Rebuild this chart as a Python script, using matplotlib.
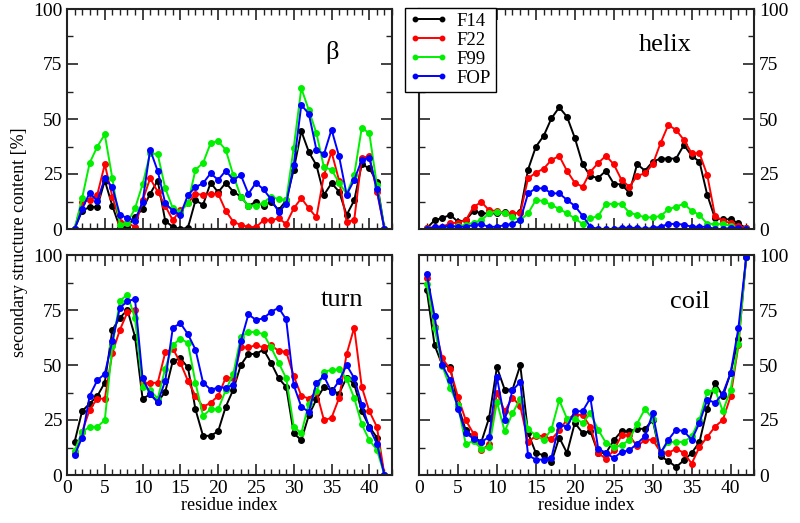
import matplotlib
matplotlib.use("Agg")
import matplotlib.pyplot as plt
from matplotlib.ticker import MultipleLocator

plt.rcParams["font.family"] = ["Liberation Serif", "DejaVu Serif"]

residues = list(range(1, 43))
series_names = ["F14", "F22", "F99", "FOP"]
series_colors = ["#000000", "#ff0000", "#00f000", "#0000ff"]

beta_f14 = [0, 8.3, 10, 10, 22, 10.5, 0.6, 1, 5.6, 9,
            16, 22, 3.6, 1, 0, 0.6, 13, 11, 21, 16.7,
            21, 17, 14.7, 10.5, 12.4, 10.5, 12.4, 8.6, 13, 27,
            44.5, 35, 29, 15.5, 20.8, 17, 6.4, 13, 29.4, 27.6,
            21.5, 0]
beta_f22 = [0, 12.4, 13, 15.5, 29.4, 14.7, 3.3, 2.6, 1, 13,
            23, 17, 10.5, 4, 8.6, 11.7, 16, 15.5, 16, 16,
            8.3, 3.3, 1.8, 1, 0.8, 4, 4, 4.8, 2.3, 9.4,
            14, 9.4, 5.3, 24.5, 35, 22, 3.3, 4, 32.4, 33,
            17, 0]
beta_f99 = [0, 14, 30, 37.4, 43, 23, 2, 2.9, 9.4, 20.3,
            34.4, 34, 18.5, 9.4, 7.9, 11.7, 27, 30, 39, 40,
            36, 24.5, 14.7, 10.5, 10.6, 12, 14.7, 13.5, 13, 37,
            64, 54, 43.5, 28, 27, 21, 16, 24.5, 46, 43.5,
            20, 0]
beta_fop = [0, 9, 16.5, 12.7, 23, 19, 6.4, 5, 3.8, 12.4,
            36, 26.4, 11.7, 8.3, 6.4, 15.5, 19, 20.8, 25.3, 22.3,
            26.5, 22.3, 24.5, 16, 21, 18, 13.5, 7.9, 11.2, 29,
            56.4, 52.3, 36, 34, 45.2, 33, 15.6, 22.3, 31.4, 32.4,
            18, 0]

helix_f14 = [0.3, 4, 5, 6.4, 3.3, 4, 8.2, 7.1, 7.1, 7.1,
             7.6, 6.4, 7.9, 27, 37.4, 42.3, 50.3, 55.3, 51, 41.4,
             29.5, 24, 23.2, 26.5, 20.6, 20.2, 16.5, 29.5, 26.5, 30.6,
             32, 32, 32, 38.2, 33.3, 30.6, 15.5, 4.8, 4.4, 4.4,
             2.6, 0.3]
helix_f22 = [0.3, 0.8, 1, 2.6, 2.9, 4, 10, 12.3, 8.5, 8.2,
             7.1, 7.4, 7.1, 23, 25.6, 27.4, 31.4, 33.2, 26.4, 21,
             19.2, 26, 30, 33.3, 29.4, 22.3, 19.2, 24.2, 25.3, 29.4,
             39, 47.3, 45, 40.5, 34.4, 34.4, 24.5, 5.9, 3.8, 2.6,
             1.5, 0.3]
helix_f99 = [0, 0.3, 0.6, 1, 1.4, 1.8, 2.9, 4, 7.1, 7.9,
             7.1, 5.6, 4, 7.1, 13.2, 12.7, 10.9, 9.1, 7.1, 4.8,
             2.3, 4.8, 5.9, 11.4, 11.4, 11.4, 7.4, 6.4, 5.3, 5.3,
             5.9, 8.9, 10.2, 11.4, 8.3, 6.4, 2.3, 2.3, 2.3, 1.4,
             0, 0]
helix_fop = [0, 1, 1, 1.4, 1, 1, 1.8, 2.1, 1, 1,
             1.8, 2.3, 4, 16.2, 18.5, 18.5, 16.2, 16.2, 13.2, 10.5,
             6, 1, 0, 0, 0, 0.5, 0.5, 0.5, 0, 0.5,
             1, 2.3, 2.3, 2, 1, 1, 1, 0, 0, 0.5,
             0.5, 0]

turn_f14 = [15, 29, 32.5, 35.8, 42, 66, 71.5, 75, 62.8, 34.7,
            36.6, 33.2, 37.8, 51.9, 53, 48.9, 29.8, 17.8, 17.8, 19.9,
            31, 38.8, 50, 55, 55, 57, 51, 44, 40, 19,
            15.8, 27.2, 34.4, 40, 38.5, 37, 44.3, 41.3, 29, 22,
            17, 0]
turn_f22 = [10, 19.6, 29.7, 34.7, 34.7, 55.5, 66, 74, 74.8, 41.6,
            41.9, 41.9, 55.7, 57.5, 51, 42.8, 36, 31, 32.8, 36,
            44.2, 44.2, 58, 58, 59, 58, 59, 56.4, 56, 45,
            36, 34.7, 37.8, 24.9, 26, 35, 55, 67, 40, 29,
            21.9, 0]
turn_f99 = [11, 19.6, 21.9, 21.9, 24.9, 58.6, 79.2, 82, 71.2, 40,
            38.5, 34.7, 48.4, 59, 62, 60, 41.9, 26.9, 29.9, 29.9,
            38.5, 46, 62.8, 65, 65, 64, 58, 51, 44, 22,
            19, 32.5, 38, 47, 47.7, 48, 43.7, 35, 23, 15.8,
            11.5, 0]
turn_fop = [9, 17, 36, 43, 46, 61, 76, 79, 80, 43.9,
            37, 33, 42.8, 66.9, 69, 64, 57, 42, 38.8, 39.7,
            39.7, 41, 60.8, 73, 70.5, 71.2, 74.2, 76, 70.7, 40.8,
            31, 28.7, 41.9, 44.9, 37.8, 42.8, 50, 44, 32, 21.4,
            14.3, 0]

coil_f14 = [84, 59, 49.9, 49, 31.7, 20.3, 17.3, 15, 26, 49,
            38.8, 38.8, 49.9, 19.1, 10, 9, 5.9, 17, 10, 23.7,
            19.1, 19.9, 10, 10, 15.8, 19.9, 19.9, 21, 21, 25,
            8.5, 6.4, 3.6, 6.7, 10, 15, 30, 41.9, 35.8, 46.4,
            62, 99]
coil_f22 = [89.7, 67.4, 53, 48, 35.5, 24.9, 18.8, 11.2, 14, 37.5,
            29, 35.2, 31.3, 15, 17.8, 17.8, 16.2, 20.3, 25.2, 27.5,
            27.2, 21.9, 10, 7.4, 11.2, 18, 18, 13, 16, 16,
            10.5, 10, 12, 10, 5.2, 12.7, 17.3, 22, 25, 35.8,
            59, 99]
coil_f99 = [87, 66.6, 49.5, 39.6, 31.7, 14, 15.5, 12, 12.7, 33.2,
            19.9, 28, 34.7, 20.8, 18, 15.8, 20.8, 34, 25.6, 25.6,
            23.7, 28, 20.6, 14.6, 12.7, 13.5, 16, 23.4, 30, 25.6,
            10, 15, 15, 15, 17.6, 25.2, 37.8, 38.8, 29, 38.8,
            59.5, 99]
coil_fop = [91.2, 72.2, 49.9, 43, 30.2, 19.1, 16.5, 15, 17.3, 44.6,
            24.9, 38.5, 42.3, 9, 7, 7, 7.9, 22.9, 21.9, 29,
            29, 35, 12, 10, 7.7, 10.5, 11.2, 14.3, 17.6, 28,
            10, 16, 20.6, 19.9, 16, 23.7, 34.3, 32.8, 37, 46.4,
            66.8, 99]

panels = [
    ("β", [beta_f14, beta_f22, beta_f99, beta_fop]),
    ("helix", [helix_f14, helix_f22, helix_f99, helix_fop]),
    ("turn", [turn_f14, turn_f22, turn_f99, turn_fop]),
    ("coil", [coil_f14, coil_f22, coil_f99, coil_fop]),
]

W, H = 800, 523
# axes boxes in pixels: (left, top, right, bottom)
boxes = [(67, 9, 392, 229), (419, 9, 754, 229), (67, 255, 392, 475), (419, 255, 754, 475)]
label_pos = [(0.815, 0.80), (0.735, 0.835), (0.845, 0.795), (0.81, 0.785)]

fig = plt.figure(figsize=(W / 100, H / 100), dpi=100)

axes = []
for i, ((name, data), box) in enumerate(zip(panels, boxes)):
    l, t, r, b = box
    ax = fig.add_axes([l / W, 1 - b / H, (r - l) / W, (b - t) / H])
    for values, label, color in zip(data, series_names, series_colors):
        ax.plot(residues, values, color=color, lw=1.4, marker="o", ms=4, label=label)
    ax.set_xlim(0, 43)
    ax.set_ylim(0, 100)
    ax.xaxis.set_major_locator(MultipleLocator(5))
    ax.xaxis.set_minor_locator(MultipleLocator(1))
    ax.yaxis.set_major_locator(MultipleLocator(25))
    ax.yaxis.set_minor_locator(MultipleLocator(12.5))
    ax.tick_params(which="both", direction="in", top=True, right=True, colors="#222222")
    ax.tick_params(which="major", length=8, width=1.2, labelsize=14, labelcolor="black")
    ax.tick_params(which="minor", length=4, width=1.0)
    for spine in ax.spines.values():
        spine.set_linewidth(1.5)
        spine.set_color("#222222")
    if i < 2:
        ax.tick_params(labelbottom=False)
    else:
        ax.set_xlabel("residue index", fontsize=13, labelpad=0)
    if i % 2 == 1:
        ax.tick_params(labelleft=False, labelright=True)
    ax.text(label_pos[i][0], label_pos[i][1], name, transform=ax.transAxes,
            ha="center", va="center", fontsize=19)
    axes.append(ax)

axes[1].legend(loc="upper left", bbox_to_anchor=(405 / W, 1 - 8 / H), bbox_transform=fig.transFigure,
               frameon=True, fancybox=False, edgecolor="black", framealpha=1, fontsize=13.5,
               numpoints=2, markerscale=0.8, handlelength=2.0, handletextpad=0.5,
               borderpad=0.25, labelspacing=0.1, borderaxespad=0)

fig.text(20 / W, 1 - 242 / H, "secondary structure content [%]", rotation=90,
         ha="center", va="center", fontsize=13)

fig.savefig("out.png", dpi=100)
